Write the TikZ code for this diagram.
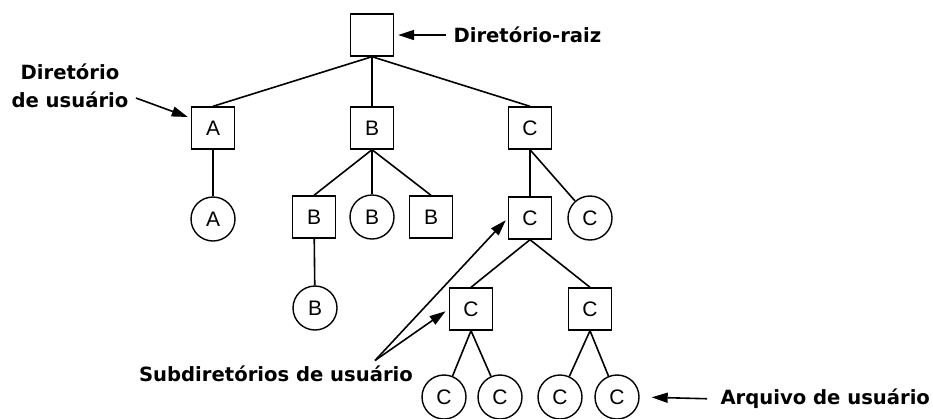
\documentclass[tikz,border=0pt]{standalone}
\usepackage{fontspec}
\newfontfamily\lblfont{DejaVu Sans}
\newfontfamily\nodefont{Liberation Sans}
\usetikzlibrary{arrows.meta}
\tikzset{
  >={Triangle[length=16pt,width=10pt]},
  dirbox/.style={draw,line width=1.4pt,minimum width=43pt,minimum height=42pt,inner sep=0pt,font=\nodefont\fontsize{21}{22}\selectfont},
  filenode/.style={draw,circle,line width=1.4pt,minimum size=44pt,inner sep=0pt,font=\nodefont\fontsize{21}{22}\selectfont},
  lbl/.style={font=\lblfont\bfseries\fontsize{19.6}{28}\selectfont},
  edge/.style={line width=1.6pt}
}
\begin{document}
\begin{tikzpicture}[x=1pt,y=-1pt]
\useasboundingbox (0,0) rectangle (933,418);
% Tree
\node[dirbox] (root) at (372,35) {};
\node[dirbox] (A) at (213,128) {A};
\node[dirbox] (B) at (372,128) {B};
\node[dirbox] (C) at (530,128) {C};
\node[filenode] (fa) at (213,219) {A};
\node[dirbox] (b1) at (314,217) {B};
\node[filenode] (fb2) at (372,217) {B};
\node[dirbox] (b3) at (431,217) {B};
\node[filenode] (fb) at (315,308) {B};
\node[dirbox] (c2) at (530,218) {C};
\node[filenode] (fc2) at (590,218) {C};
\node[dirbox] (c3) at (471,309) {C};
\node[dirbox] (c4) at (590,309) {C};
\node[filenode] (fc3) at (444,397) {C};
\node[filenode] (fc4) at (500,397) {C};
\node[filenode] (fc5) at (560,397) {C};
\node[filenode] (fc6) at (617,397) {C};

\draw[edge] (root.south) -- (A.north);
\draw[edge] (root.south) -- (B.north);
\draw[edge] (root.south) -- (C.north);
\draw[edge] (A) -- (fa);
\draw[edge] (B.south) -- (b1.north);
\draw[edge] (B.south) -- (fb2.north);
\draw[edge] (B.south) -- (b3.north);
\draw[edge] (b1) -- (fb);
\draw[edge] (C) -- (c2);
\draw[edge] (C.south) -- (fc2);
\draw[edge] (c2.south) -- (c3.north);
\draw[edge] (c2.south) -- (c4.north);
\draw[edge] (c3.south) -- (fc3);
\draw[edge] (c3.south) -- (fc4);
\draw[edge] (c4.south) -- (fc5);
\draw[edge] (c4.south) -- (fc6);

% Labels
\node[lbl,anchor=west] (lroot) at (450,35) {Diretório-raiz};
\draw[edge,->,shorten <=4pt,shorten >=4pt] (lroot.west) -- (root.east);

\node[lbl,align=center] (ldir) at (70,86) {Diretório\\de usuário};
\draw[edge,->] ([shift={(4pt,-12pt)}]ldir.east) -- ([shift={(-3pt,11pt)}]A.west);

\node[lbl] (lsub) at (276,374) {Subdiretórios de usuário};
\coordinate (subtail) at ([xshift=99pt,yshift=2pt]lsub.north);
\draw[edge,->,shorten >=3pt] (subtail) -- (c2.west);
\draw[edge,->,shorten >=4pt] (subtail) -- (c3.west);

\node[lbl,anchor=west] (larq) at (717,399) {Arquivo de usuário};
\draw[edge,->,shorten <=10pt,shorten >=12pt] (larq.west) -- (fc6.east);
\end{tikzpicture}
\end{document}
